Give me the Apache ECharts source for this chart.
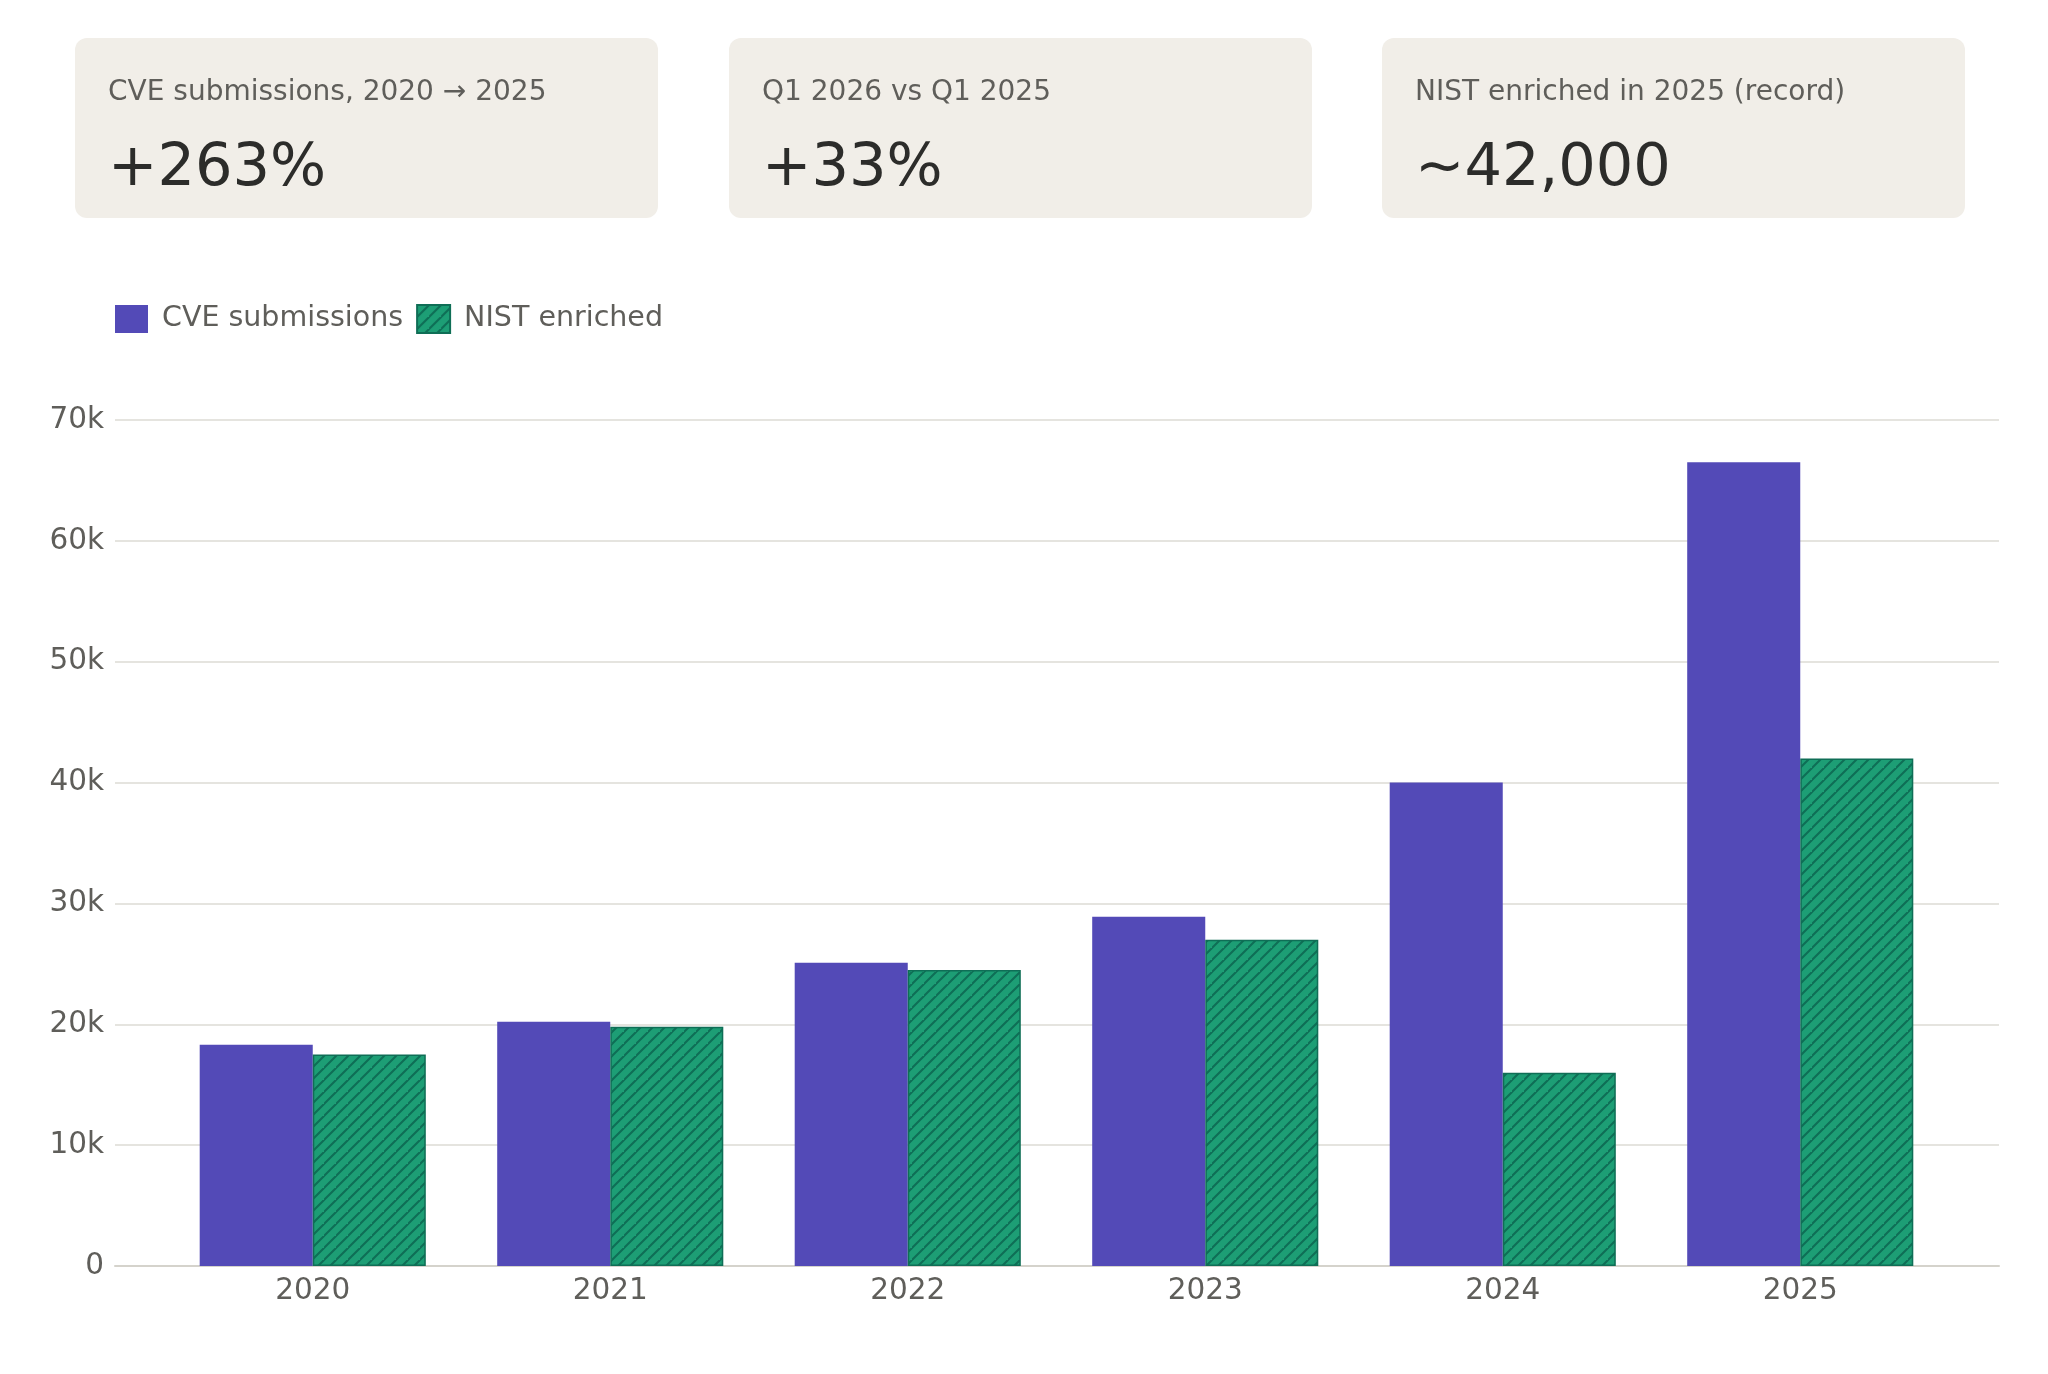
<!DOCTYPE html>
<html>
<head>
<meta charset="utf-8">
<script src="https://cdn.jsdelivr.net/npm/echarts@6/dist/echarts.min.js"></script>
<style>
html,body{margin:0;padding:0;background:#ffffff;}
#main{width:2048px;height:1374px;}
</style>
</head>
<body>
<div id="main"></div>
<script>
// ---- data ----
var years = ['2020', '2021', '2022', '2023', '2024', '2025'];
var cveSubmissions = [18300, 20200, 25100, 28900, 40000, 66500];
var nistEnriched = [17500, 19800, 24500, 27000, 16000, 42000];
var seriesNames = ['CVE submissions', 'NIST enriched'];
var yTicks = [0, 10000, 20000, 30000, 40000, 50000, 60000, 70000];
var cardLabels = ['CVE submissions, 2020 \u2192 2025', 'Q1 2026 vs Q1 2025', 'NIST enriched in 2025 (record)'];
var cardValues = ['+263%', '+33%', '~42,000'];

var FONT = 'DejaVu Sans';
var PURPLE = '#534ab7';
var GREEN = '#1d9e75';
var GREEN_DARK = '#0f6e56';

// hatch pattern
function makeHatch() {
  var s = 12;
  var c = document.createElement('canvas');
  c.width = s; c.height = s;
  var g = c.getContext('2d');
  g.fillStyle = GREEN;
  g.fillRect(0, 0, s, s);
  g.strokeStyle = GREEN_DARK;
  g.lineWidth = 2;
  g.beginPath();
  g.moveTo(-2, s + 2); g.lineTo(s + 2, -2);
  g.moveTo(-2 - s, s + 2); g.lineTo(2, -2);
  g.moveTo(s - 2, 2 * s + 2); g.lineTo(2 * s + 2, s - 2);
  g.stroke();
  return c;
}

var chart = echarts.init(document.getElementById('main'), null, {renderer: 'canvas'});

// cards
var cardX = [75, 729, 1382];
var cardW = 583;
var graphics = [];
for (var i = 0; i < 3; i++) {
  graphics.push({
    type: 'rect', left: cardX[i], top: 38, z: 0,
    shape: {width: cardW, height: 180, r: 12},
    style: {fill: '#f1eee8'}
  });
  graphics.push({
    type: 'text', x: cardX[i] + 33, y: 93, z: 1,
    style: {text: cardLabels[i], font: '28px "' + FONT + '"', fill: '#5f5e5a', verticalAlign: 'middle'}
  });
  graphics.push({
    type: 'text', x: cardX[i] + 33, y: 170, z: 1,
    style: {text: cardValues[i], font: '59px "' + FONT + '"', fill: '#2c2c2a', verticalAlign: 'middle'}
  });
}

var option = {
  backgroundColor: '#ffffff',
  animation: false,
  textStyle: {fontFamily: FONT},
  graphic: graphics,
  legend: {
    left: 115, top: 304, padding: 0,
    itemWidth: 33, itemHeight: 28, itemGap: 13,
    icon: 'rect',
    data: seriesNames,
    textStyle: {fontFamily: FONT, fontSize: 28.5, color: '#5f5e5a', padding: [0, 0, 0, 9]}
  },
  grid: [
    {left: 115, right: 49, top: 420, bottom: 108},
    {left: 164, right: 99, top: 420, bottom: 108}
  ],
  xAxis: [
    {type: 'value', gridIndex: 0, min: 0, max: 1, show: true,
     axisLine: {show: true, lineStyle: {color: '#d5d3cc', width: 2}},
     axisTick: {show: false}, axisLabel: {show: false}, splitLine: {show: false}},
    {type: 'category', gridIndex: 1, data: years,
     axisLine: {show: false}, axisTick: {show: false},
     axisLabel: {fontFamily: FONT, fontSize: 29.5, color: '#5f5e5a', margin: 10}}
  ],
  yAxis: [
    {type: 'value', gridIndex: 0, min: 0, max: 70000, interval: 10000,
     axisLine: {show: false}, axisTick: {show: false},
     axisLabel: {fontFamily: FONT, fontSize: 29.5, color: '#5f5e5a', margin: 11,
       formatter: function (v) { return v === 0 ? '0' : (v / 1000) + 'k'; }},
     splitLine: {lineStyle: {color: '#dddbd4', width: 1.5}}},
    {type: 'value', gridIndex: 1, min: 0, max: 70000, interval: 10000, show: false,
     splitLine: {show: false}}
  ],
  series: [
    {name: seriesNames[0], type: 'bar', xAxisIndex: 1, yAxisIndex: 1,
     data: cveSubmissions, barGap: '0%', barCategoryGap: '24%',
     itemStyle: {color: PURPLE}},
    {name: seriesNames[1], type: 'bar', xAxisIndex: 1, yAxisIndex: 1,
     data: nistEnriched, barGap: '0%', barCategoryGap: '24%',
     itemStyle: {color: {image: makeHatch(), repeat: 'repeat'}, borderColor: GREEN_DARK, borderWidth: 1.5}}
  ]
};
chart.setOption(option);
</script>
</body>
</html>
